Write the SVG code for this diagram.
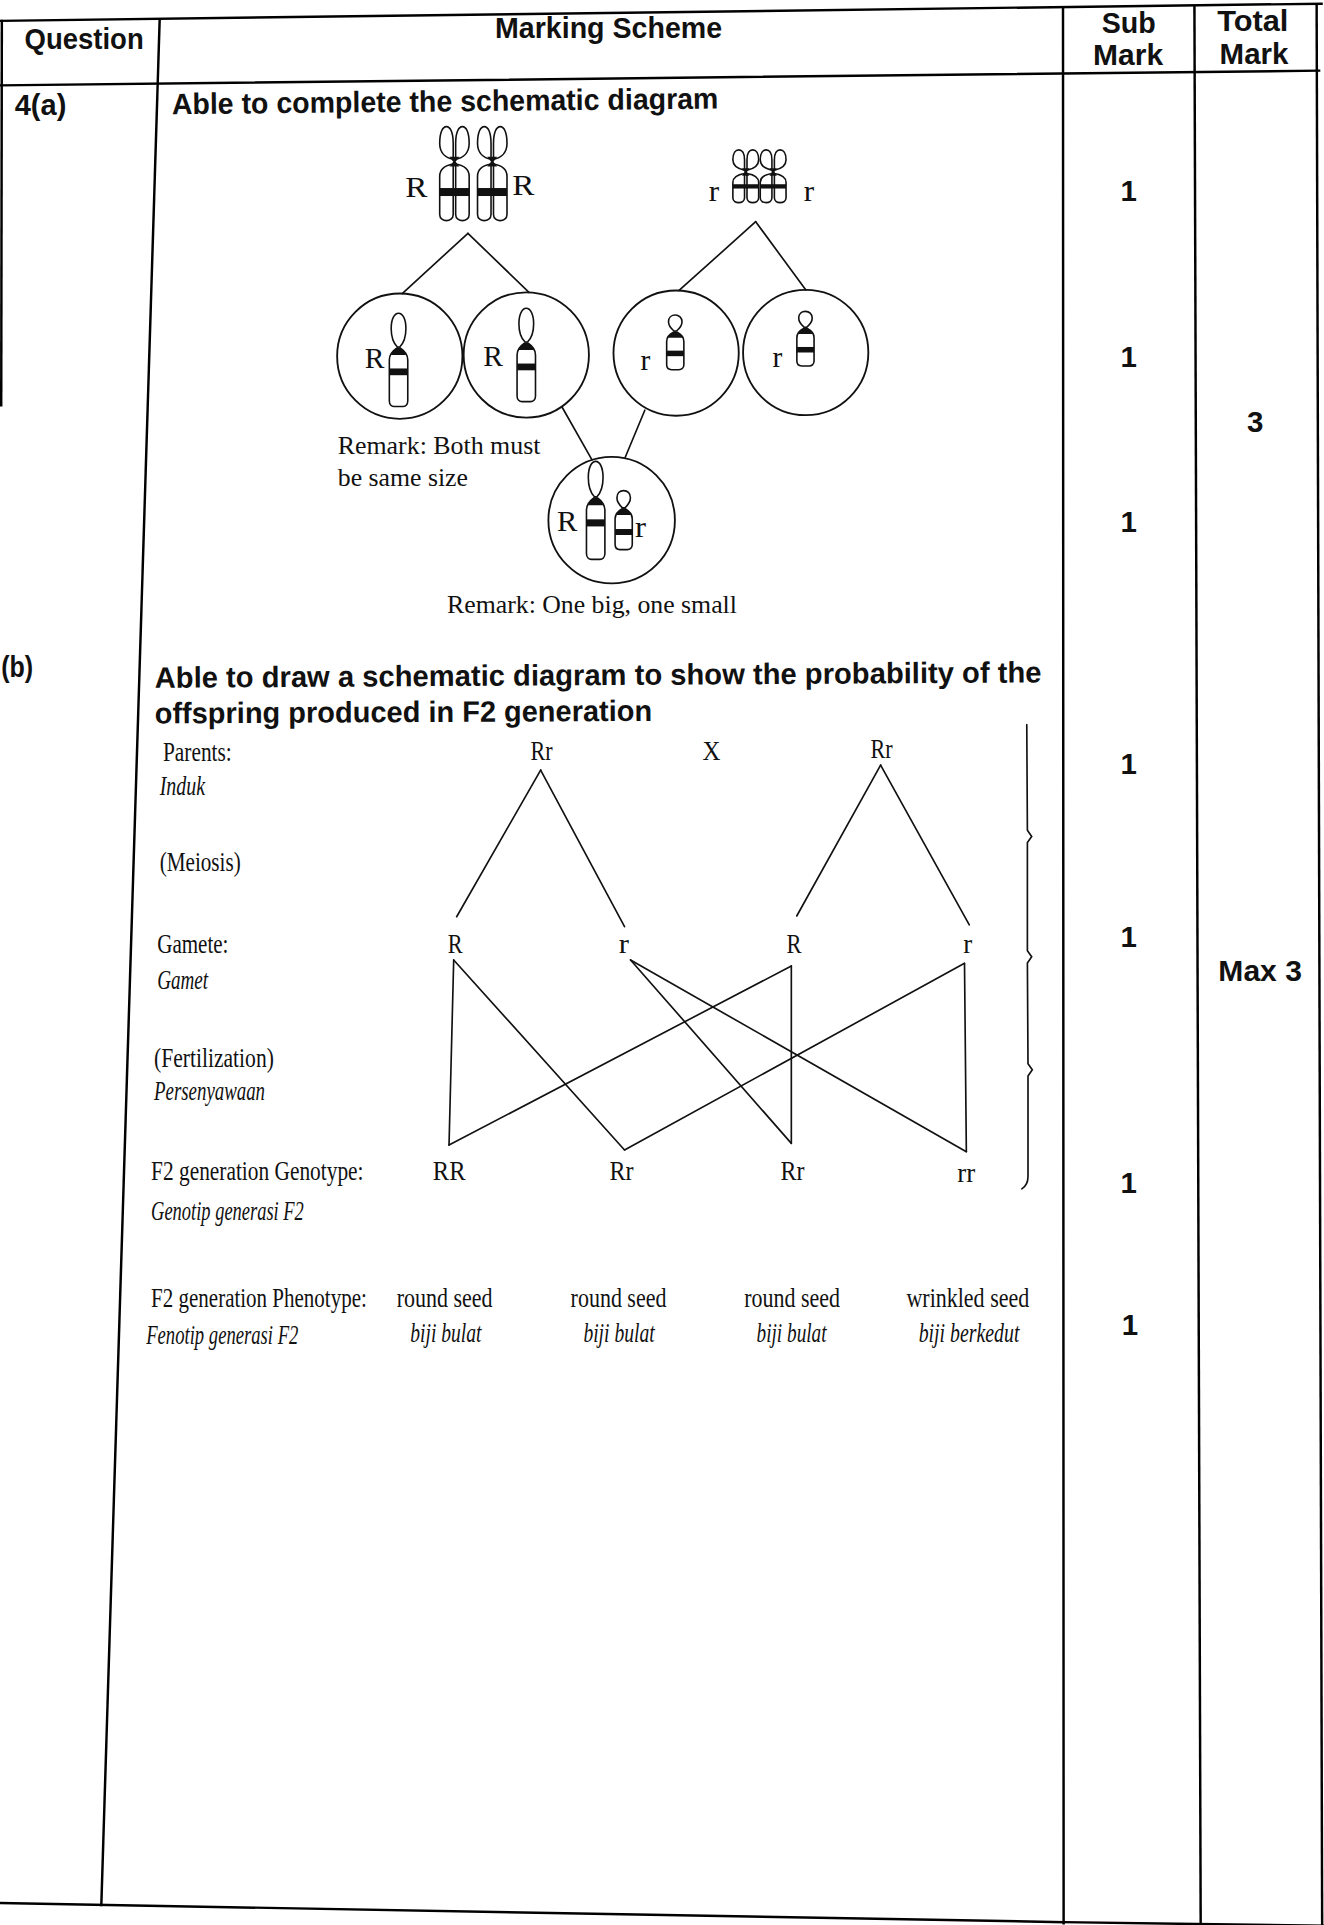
<svg xmlns="http://www.w3.org/2000/svg" xmlns:xlink="http://www.w3.org/1999/xlink" width="1324" height="1925" viewBox="0 0 1324 1925">
  <style>
    .rule { fill: none; stroke: #000; stroke-width: 2; stroke-linecap: square; }
    .ln { fill: none; stroke: #111; stroke-width: 1.35; stroke-linecap: round; }
    .cell { fill: #fff; stroke: #111; stroke-width: 1.5; }
    .chr { fill: #fff; stroke: #111; stroke-width: 1.3; stroke-linejoin: round; }
    .ink { fill: #111; stroke: none; }
    .hd { font-family: "Liberation Sans", Arial, sans-serif; font-weight: bold; font-size: 24px; fill: #111; }
    .al { font-family: "Liberation Serif", "Times New Roman", serif; font-size: 24px; fill: #111; }
    .rm { font-family: "Liberation Serif", "Times New Roman", serif; font-size: 21px; fill: #111; }
    .sf { font-family: "Liberation Serif", "Times New Roman", serif; font-size: 23px; fill: #111; }
    .it { font-family: "Liberation Serif", "Times New Roman", serif; font-style: italic; font-size: 22px; fill: #111; }
    .mk { font-family: "Liberation Sans", Arial, sans-serif; font-weight: bold; font-size: 24px; fill: #111; text-anchor: middle; }
  </style>
  <defs>
    <!-- pair of sister chromatids, origin at the centromere -->
    <g id="dyad">
      <path class="chr" d="M -1,-2 C -7,-3 -12,-7 -12,-15 C -12,-24 -9.5,-28.5 -6.5,-28.5 C -3.5,-28.5 -1,-24 -1,-15 Z"/>
      <path class="chr" d="M 1,-2 C 7,-3 12,-7 12,-15 C 12,-24 9.5,-28.5 6.5,-28.5 C 3.5,-28.5 1,-24 1,-15 Z"/>
      <path class="chr" d="M -1,2 C -7,3 -12,6 -12,12 L -12,43 C -12,46.5 -9,48 -6.5,48 C -4,48 -1,46.5 -1,43 Z"/>
      <path class="chr" d="M 1,2 C 7,3 12,6 12,12 L 12,43 C 12,46.5 9,48 6.5,48 C 4,48 1,46.5 1,43 Z"/>
      <rect class="ink" x="-12" y="21.5" width="24" height="6.5"/>
      <path class="ink" d="M -4,-4 L 4,-4 L 1,0 L 4,4 L -4,4 L -1,0 Z"/>
    </g>
    <g id="dyad-s">
      <path class="chr" d="M -1,-1.5 C -6,-2.5 -10.5,-5 -10.5,-10 C -10.5,-15.5 -8.2,-18 -5.7,-18 C -3,-18 -1,-15.5 -1,-10 Z"/>
      <path class="chr" d="M 1,-1.5 C 6,-2.5 10.5,-5 10.5,-10 C 10.5,-15.5 8.2,-18 5.7,-18 C 3,-18 1,-15.5 1,-10 Z"/>
      <path class="chr" d="M -1,1.2 C -6,2 -10.5,4 -10.5,8.5 L -10.5,21 C -10.5,23.8 -8,25 -5.7,25 C -3.5,25 -1,23.8 -1,21 Z"/>
      <path class="chr" d="M 1,1.2 C 6,2 10.5,4 10.5,8.5 L 10.5,21 C 10.5,23.8 8,25 5.7,25 C 3.5,25 1,23.8 1,21 Z"/>
      <rect class="ink" x="-10.5" y="10" width="21" height="3.5"/>
      <path class="ink" d="M -3,-3 L 3,-3 L 1,0 L 3,3 L -3,3 L -1,0 Z"/>
    </g>
    <!-- single chromosome, long and short forms -->
    <g id="mono">
      <path class="chr" d="M -1,-0.5 C -4,-3.5 -6,-9 -6,-15.5 C -6,-23.5 -3.2,-28 0,-28 C 3.2,-28 6,-23.5 6,-15.5 C 6,-9 4,-3.5 1,-0.5 Z"/>
      <path class="chr" d="M -1.5,0.5 C -4.5,2.5 -7.5,5.5 -7.5,10 L -7.5,43.5 C -7.5,46.5 -5.5,48 -3.5,48 L 3.5,48 C 5.5,48 7.5,46.5 7.5,43.5 L 7.5,10 C 7.5,5.5 4.5,2.5 1.5,0.5 Z"/>
      <path class="ink" d="M -1.5,0 L 1.5,0 C 3.5,2 5.5,3.5 6.2,6 L -6.2,6 C -5.5,3.5 -3.5,2 -1.5,0 Z"/>
      <rect class="ink" x="-7.5" y="17" width="15" height="5.5"/>
    </g>
    <g id="mono-s">
      <path class="chr" d="M -1,-0.5 C -3.5,-2.5 -5.5,-5 -5.5,-8 C -5.5,-11.5 -3,-13.5 0,-13.5 C 3,-13.5 5.5,-11.5 5.5,-8 C 5.5,-5 3.5,-2.5 1,-0.5 Z"/>
      <path class="chr" d="M -1.5,0.5 C -4.5,2 -7,4 -7,8 L -7,27 C -7,29.8 -5,31 -3,31 L 3,31 C 5,31 7,29.8 7,27 L 7,8 C 7,4 4.5,2 1.5,0.5 Z"/>
      <path class="ink" d="M -1.5,0 L 1.5,0 C 3.5,1.5 5.3,3 5.9,5 L -5.9,5 C -5.3,3 -3.5,1.5 -1.5,0 Z"/>
      <rect class="ink" x="-7" y="15.5" width="14" height="4.5"/>
    </g>
  </defs>

  <rect x="0" y="0" width="1324" height="1925" fill="#fff"/>

  <g transform="scale(1.2282)">
    <!-- table frame -->
    <g id="table">
      <path class="rule" stroke-width="2.4" d="M 0,17 L 1076,3"/>
      <path class="rule" d="M 0,69.5 L 1074,57.5"/>
      <path class="rule" stroke-width="3.6" d="M 0,1549.5 L 866,1565"/>
      <path class="rule" stroke-width="1.2" stroke="#555" d="M 866,1565 L 1078,1568"/>
      <path class="rule" d="M 1.5,17 L 1,330"/>
      <path class="rule" d="M 130,16 L 82.5,1551"/>
      <path class="rule" d="M 865.5,6 L 866,1566"/>
      <path class="rule" stroke-width="2.2" d="M 972.5,5 L 977.6,1568"/>
      <path class="rule" stroke-width="2.2" d="M 1072,3.5 L 1076.5,1568"/>
    </g>

    <g id="header">
      <text class="hd" x="20" y="40" textLength="97" lengthAdjust="spacingAndGlyphs">Question</text>
      <text class="hd" x="403" y="31" textLength="185" lengthAdjust="spacingAndGlyphs">Marking Scheme</text>
      <text class="hd" x="897" y="27" textLength="44" lengthAdjust="spacingAndGlyphs">Sub</text>
      <text class="hd" x="890" y="53" textLength="57" lengthAdjust="spacingAndGlyphs">Mark</text>
      <text class="hd" x="991" y="25" textLength="58" lengthAdjust="spacingAndGlyphs">Total</text>
      <text class="hd" x="993" y="52" textLength="56" lengthAdjust="spacingAndGlyphs">Mark</text>
    </g>

    <!-- question 4(a) -->
    <g id="q4a">
      <text class="hd" x="12" y="94" textLength="42" lengthAdjust="spacingAndGlyphs">4(a)</text>
      <text class="hd" x="140" y="93" textLength="445" lengthAdjust="spacingAndGlyphs" transform="rotate(-0.6 140 93)">Able to complete the schematic diagram</text>
    </g>

    <g id="parent-RR">
      <use xlink:href="#dyad" href="#dyad" transform="translate(370 131.6)"/>
      <use xlink:href="#dyad" href="#dyad" transform="translate(400.8 131.6)"/>
      <text class="al" x="330" y="160" textLength="18" lengthAdjust="spacingAndGlyphs">R</text>
      <text class="al" x="417" y="159" textLength="18" lengthAdjust="spacingAndGlyphs">R</text>
    </g>
    <g id="parent-rr">
      <use xlink:href="#dyad-s" href="#dyad-s" transform="translate(607.2 140)"/>
      <use xlink:href="#dyad-s" href="#dyad-s" transform="translate(629.5 140)"/>
      <text class="al" x="577" y="164" textLength="8.5" lengthAdjust="spacingAndGlyphs">r</text>
      <text class="al" x="654.5" y="164" textLength="8.5" lengthAdjust="spacingAndGlyphs">r</text>
    </g>

    <g id="gamete-R1">
      <circle class="cell" cx="325.5" cy="290" r="51"/>
      <use xlink:href="#mono" href="#mono" transform="translate(324.5 283)"/>
      <text class="al" x="297" y="300" textLength="16" lengthAdjust="spacingAndGlyphs">R</text>
    </g>
    <g id="gamete-R2">
      <circle class="cell" cx="428.5" cy="289" r="51"/>
      <use xlink:href="#mono" href="#mono" transform="translate(428.5 279)"/>
      <text class="al" x="393.5" y="298" textLength="16" lengthAdjust="spacingAndGlyphs">R</text>
    </g>
    <g id="gamete-r1">
      <circle class="cell" cx="550.5" cy="287.5" r="51"/>
      <use xlink:href="#mono-s" href="#mono-s" transform="translate(549.8 270)"/>
      <text class="al" x="521.5" y="301" textLength="8" lengthAdjust="spacingAndGlyphs">r</text>
    </g>
    <g id="gamete-r2">
      <circle class="cell" cx="656" cy="287" r="51"/>
      <use xlink:href="#mono-s" href="#mono-s" transform="translate(655.8 267)"/>
      <text class="al" x="629" y="299" textLength="8" lengthAdjust="spacingAndGlyphs">r</text>
    </g>
    <g id="zygote-Rr">
      <circle class="cell" cx="498" cy="423.5" r="51.5"/>
      <use xlink:href="#mono" href="#mono" transform="translate(485 405) scale(1 1.05)"/>
      <use xlink:href="#mono-s" href="#mono-s" transform="translate(507.8 414) scale(1 1.08)"/>
      <text class="al" x="453.5" y="432" textLength="16.5" lengthAdjust="spacingAndGlyphs">R</text>
      <text class="al" x="517" y="437" textLength="9" lengthAdjust="spacingAndGlyphs">r</text>
    </g>

    <g id="remarks-a">
      <text class="rm" x="275" y="370" textLength="165" lengthAdjust="spacingAndGlyphs">Remark: Both must</text>
      <text class="rm" x="275" y="395.5" textLength="106" lengthAdjust="spacingAndGlyphs">be same size</text>
      <text class="rm" x="364" y="499" textLength="236" lengthAdjust="spacingAndGlyphs">Remark: One big, one small</text>
    </g>

    <g id="connectors-a">
      <line class="ln" x1="381" y1="190" x2="327.5" y2="239"/>
      <line class="ln" x1="381" y1="190" x2="430.7" y2="238"/>
      <line class="ln" x1="615.3" y1="180.5" x2="552.9" y2="236.5"/>
      <line class="ln" x1="615.3" y1="180.5" x2="656" y2="236"/>
      <line class="ln" x1="457.6" y1="331.4" x2="482" y2="374.5"/>
      <line class="ln" x1="525" y1="334" x2="509" y2="372.5"/>
    </g>

    <!-- question 4(b) -->
    <g id="q4b">
      <text class="hd" x="1" y="551" textLength="26" lengthAdjust="spacingAndGlyphs">(b)</text>
      <text class="hd" x="126" y="560" textLength="722" lengthAdjust="spacingAndGlyphs" transform="rotate(-0.35 126 560)">Able to draw a schematic diagram to show the probability of the</text>
      <text class="hd" x="126" y="589" textLength="405" lengthAdjust="spacingAndGlyphs" transform="rotate(-0.3 126 589)">offspring produced in F2 generation</text>
    </g>

    <g id="row-labels">
      <text class="sf" x="132.7" y="619.5" textLength="56" lengthAdjust="spacingAndGlyphs">Parents:</text>
      <text class="it" x="130" y="647.5" textLength="37" lengthAdjust="spacingAndGlyphs">Induk</text>
      <text class="sf" x="130" y="709.5" textLength="66" lengthAdjust="spacingAndGlyphs">(Meiosis)</text>
      <text class="sf" x="128" y="776" textLength="58" lengthAdjust="spacingAndGlyphs">Gamete:</text>
      <text class="it" x="128" y="805" textLength="41.5" lengthAdjust="spacingAndGlyphs">Gamet</text>
      <text class="sf" x="125.4" y="868.5" textLength="97.6" lengthAdjust="spacingAndGlyphs">(Fertilization)</text>
      <text class="it" x="125.4" y="896" textLength="90.4" lengthAdjust="spacingAndGlyphs">Persenyawaan</text>
      <text class="sf" x="123" y="961" textLength="173" lengthAdjust="spacingAndGlyphs">F2 generation Genotype:</text>
      <text class="it" x="123" y="993" textLength="124.4" lengthAdjust="spacingAndGlyphs">Genotip generasi F2</text>
      <text class="sf" transform="translate(123 1064) scale(0.744 1)">F2 generation Phenotype:</text>
      <text class="it" x="119" y="1094" textLength="124" lengthAdjust="spacingAndGlyphs">Fenotip generasi F2</text>
    </g>

    <g id="parents-b">
      <text class="sf" x="432" y="619" textLength="18" lengthAdjust="spacingAndGlyphs">Rr</text>
      <text class="sf" x="572" y="619" textLength="14.6" lengthAdjust="spacingAndGlyphs">X</text>
      <text class="sf" x="708.7" y="617.5" textLength="18" lengthAdjust="spacingAndGlyphs">Rr</text>
    </g>
    <g id="gametes-b">
      <text class="sf" x="364.6" y="776" textLength="12.1" lengthAdjust="spacingAndGlyphs">R</text>
      <text class="sf" x="503.7" y="776" textLength="8.3" lengthAdjust="spacingAndGlyphs">r</text>
      <text class="sf" x="640.4" y="776" textLength="12.2" lengthAdjust="spacingAndGlyphs">R</text>
      <text class="sf" x="784.3" y="776" textLength="7.3" lengthAdjust="spacingAndGlyphs">r</text>
    </g>
    <g id="genotypes-b">
      <text class="sf" x="352.4" y="961" textLength="26.6" lengthAdjust="spacingAndGlyphs">RR</text>
      <text class="sf" x="496.3" y="961" textLength="19.6" lengthAdjust="spacingAndGlyphs">Rr</text>
      <text class="sf" x="635.5" y="961" textLength="19.5" lengthAdjust="spacingAndGlyphs">Rr</text>
      <text class="sf" x="779.4" y="962" textLength="14.6" lengthAdjust="spacingAndGlyphs">rr</text>
    </g>
    <g id="phenotypes-b">
      <text class="sf" x="323" y="1064" textLength="78" lengthAdjust="spacingAndGlyphs">round seed</text>
      <text class="sf" x="464.6" y="1064" textLength="78" lengthAdjust="spacingAndGlyphs">round seed</text>
      <text class="sf" x="606" y="1064" textLength="78" lengthAdjust="spacingAndGlyphs">round seed</text>
      <text class="sf" x="738" y="1064" textLength="100" lengthAdjust="spacingAndGlyphs">wrinkled seed</text>
      <text class="it" x="334" y="1093" textLength="58" lengthAdjust="spacingAndGlyphs">biji bulat</text>
      <text class="it" x="475" y="1093" textLength="58" lengthAdjust="spacingAndGlyphs">biji bulat</text>
      <text class="it" x="616" y="1093" textLength="57" lengthAdjust="spacingAndGlyphs">biji bulat</text>
      <text class="it" x="748" y="1093" textLength="82" lengthAdjust="spacingAndGlyphs">biji berkedut</text>
    </g>

    <g id="connectors-b">
      <!-- meiosis -->
      <line class="ln" x1="440.2" y1="627" x2="371.8" y2="746.4"/>
      <line class="ln" x1="440.2" y1="627" x2="508.5" y2="754.5"/>
      <line class="ln" x1="717" y1="622.9" x2="648.7" y2="745.8"/>
      <line class="ln" x1="717" y1="622.9" x2="789.2" y2="753"/>
      <!-- fertilization -->
      <line class="ln" x1="369.4" y1="781.6" x2="365.6" y2="932.3"/>
      <line class="ln" x1="369.4" y1="781.6" x2="508.5" y2="936.3"/>
      <line class="ln" x1="644.3" y1="786.5" x2="365.6" y2="932.3"/>
      <line class="ln" x1="785.3" y1="784.3" x2="508.5" y2="936.3"/>
      <line class="ln" x1="513.4" y1="781.6" x2="644.3" y2="930.9"/>
      <line class="ln" x1="513.4" y1="781.6" x2="786.8" y2="937.7"/>
      <line class="ln" x1="644.3" y1="786.5" x2="644.3" y2="930.9"/>
      <line class="ln" x1="785.3" y1="784.3" x2="786.8" y2="937.7"/>
      <!-- grouping brace -->
      <path class="ln" stroke-width="1.5" d="M 836,590 L 836.5,676 L 840,681 L 836.5,686 L 836.5,774 L 840,779 L 836.5,784 L 837,866 L 840.5,871 L 837,876 L 837,958 Q 837,965 832,968"/>
    </g>

    <g id="marks">
      <text class="mk" x="919" y="164">1</text>
      <text class="mk" x="919" y="299">1</text>
      <text class="mk" x="919" y="433">1</text>
      <text class="mk" x="919" y="630">1</text>
      <text class="mk" x="919" y="771">1</text>
      <text class="mk" x="919" y="971">1</text>
      <text class="mk" x="920" y="1087">1</text>
      <text class="mk" x="1022" y="352">3</text>
      <text class="hd" x="992" y="799" textLength="68" lengthAdjust="spacingAndGlyphs">Max 3</text>
    </g>
  </g>
</svg>
